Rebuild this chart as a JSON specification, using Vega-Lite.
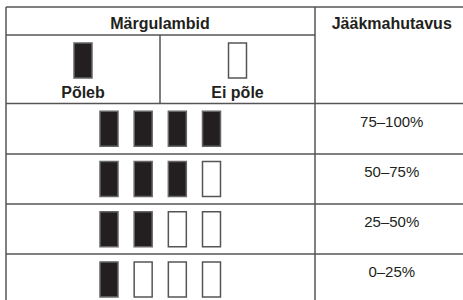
{
  "$schema": "https://vega.github.io/schema/vega-lite/v6.json",
  "width": 463,
  "height": 300,
  "padding": 0,
  "autosize": {"type": "none"},
  "background": "white",
  "config": {"view": {"stroke": null}, "text": {"font": "Liberation Sans", "fontSize": 15, "color": "#231f20"}},
  "resolve": {"scale": {"x": "independent", "y": "independent"}},
  "layer": [
    {
      "data": {"values": [
        {"row": 0, "from": 0, "to": 3},
        {"row": 1, "from": 0, "to": 2},
        {"row": 2, "from": 0, "to": 3},
        {"row": 3, "from": 0, "to": 3},
        {"row": 4, "from": 0, "to": 3},
        {"row": 5, "from": 0, "to": 3}
      ]},
      "mark": {"type": "rule", "color": "#555555", "strokeWidth": 1.5},
      "encoding": {
        "y": {"field": "row", "type": "quantitative", "axis": null, "scale": {"domain": [0, 1, 2, 3, 4, 5, 6], "range": [7, 35, 103.5, 154, 204, 254, 304.5], "nice": false, "zero": false}},
        "x": {"field": "from", "type": "quantitative", "axis": null, "scale": {"domain": [0, 1, 2, 3], "range": [6, 160, 315, 468.5], "nice": false, "zero": false}},
        "x2": {"field": "to"}
      }
    },
    {
      "data": {"values": [
        {"col": 0, "from": 0, "to": 6},
        {"col": 1, "from": 1, "to": 2},
        {"col": 2, "from": 0, "to": 6}
      ]},
      "mark": {"type": "rule", "color": "#555555", "strokeWidth": 1.5},
      "encoding": {
        "x": {"field": "col", "type": "quantitative", "axis": null, "scale": {"domain": [0, 1, 2, 3], "range": [6, 160, 315, 468.5], "nice": false, "zero": false}},
        "y": {"field": "from", "type": "quantitative", "axis": null, "scale": {"domain": [0, 1, 2, 3, 4, 5, 6], "range": [7, 35, 103.5, 154, 204, 254, 304.5], "nice": false, "zero": false}},
        "y2": {"field": "to"}
      }
    },
    {
      "data": {"values": [
        {"text": "Märgulambid", "col": 1, "row": 0.5},
        {"text": "Jääkmahutavus", "col": 2.5, "row": 0.5}
      ]},
      "mark": {"type": "text", "fontWeight": "bold", "fontSize": 16, "baseline": "middle", "align": "center", "dy": 3},
      "encoding": {
        "x": {"field": "col", "type": "quantitative", "axis": null, "scale": {"domain": [0, 1, 2, 3], "range": [6, 160, 315, 468.5], "nice": false, "zero": false}},
        "y": {"field": "row", "type": "quantitative", "axis": null, "scale": {"domain": [0, 1, 2, 3, 4, 5, 6], "range": [7, 35, 103.5, 154, 204, 254, 304.5], "nice": false, "zero": false}},
        "text": {"field": "text"}
      }
    },
    {
      "data": {"values": [
        {"label": "Põleb", "state": "on", "col": 0.5, "row": 1.5},
        {"label": "Ei põle", "state": "off", "col": 1.5, "row": 1.5}
      ]},
      "layer": [
        {
          "mark": {"type": "point", "shape": "M-0.514,-1H0.514V1H-0.514Z", "size": 1225, "filled": true, "opacity": 1, "strokeWidth": 1.5, "yOffset": -8.75},
          "encoding": {
            "x": {"field": "col", "type": "quantitative", "axis": null, "scale": {"domain": [0, 1, 2, 3], "range": [6, 160, 315, 468.5], "nice": false, "zero": false}},
            "y": {"field": "row", "type": "quantitative", "axis": null, "scale": {"domain": [0, 1, 2, 3, 4, 5, 6], "range": [7, 35, 103.5, 154, 204, 254, 304.5], "nice": false, "zero": false}},
            "fill": {"field": "state", "type": "nominal", "legend": null, "scale": {"domain": ["on", "off"], "range": ["#231f20", "#ffffff"]}},
            "stroke": {"field": "state", "type": "nominal", "legend": null, "scale": {"domain": ["on", "off"], "range": ["#666666", "#555555"]}}
          }
        },
        {
          "mark": {"type": "text", "fontWeight": "bold", "fontSize": 16, "baseline": "alphabetic", "align": "center", "dy": 28.5},
          "encoding": {
            "x": {"field": "col", "type": "quantitative", "axis": null, "scale": {"domain": [0, 1, 2, 3], "range": [6, 160, 315, 468.5], "nice": false, "zero": false}},
            "y": {"field": "row", "type": "quantitative", "axis": null, "scale": {"domain": [0, 1, 2, 3, 4, 5, 6], "range": [7, 35, 103.5, 154, 204, 254, 304.5], "nice": false, "zero": false}},
            "text": {"field": "label"}
          }
        }
      ]
    },
    {
      "data": {"values": [
        {"level": "75–100%", "lamp": 1, "state": "on"},
        {"level": "75–100%", "lamp": 2, "state": "on"},
        {"level": "75–100%", "lamp": 3, "state": "on"},
        {"level": "75–100%", "lamp": 4, "state": "on"},
        {"level": "50–75%", "lamp": 1, "state": "on"},
        {"level": "50–75%", "lamp": 2, "state": "on"},
        {"level": "50–75%", "lamp": 3, "state": "on"},
        {"level": "50–75%", "lamp": 4, "state": "off"},
        {"level": "25–50%", "lamp": 1, "state": "on"},
        {"level": "25–50%", "lamp": 2, "state": "on"},
        {"level": "25–50%", "lamp": 3, "state": "off"},
        {"level": "25–50%", "lamp": 4, "state": "off"},
        {"level": "0–25%", "lamp": 1, "state": "on"},
        {"level": "0–25%", "lamp": 2, "state": "off"},
        {"level": "0–25%", "lamp": 3, "state": "off"},
        {"level": "0–25%", "lamp": 4, "state": "off"}
      ]},
      "mark": {"type": "point", "shape": "M-0.514,-1H0.514V1H-0.514Z", "size": 1225, "filled": true, "opacity": 1, "strokeWidth": 1.5},
      "encoding": {
        "x": {"field": "lamp", "type": "quantitative", "axis": null, "scale": {"domain": [1, 4], "range": [109, 211.5], "nice": false, "zero": false}},
        "y": {"field": "level", "type": "nominal", "axis": null, "scale": {"type": "band", "domain": ["75–100%", "50–75%", "25–50%", "0–25%"], "range": [103.5, 304.5], "paddingInner": 0, "paddingOuter": 0}},
        "fill": {"field": "state", "type": "nominal", "legend": null, "scale": {"domain": ["on", "off"], "range": ["#231f20", "#ffffff"]}},
        "stroke": {"field": "state", "type": "nominal", "legend": null, "scale": {"domain": ["on", "off"], "range": ["#666666", "#555555"]}}
      }
    },
    {
      "data": {"values": [
        {"level": "75–100%", "col": 2.5},
        {"level": "50–75%", "col": 2.5},
        {"level": "25–50%", "col": 2.5},
        {"level": "0–25%", "col": 2.5}
      ]},
      "mark": {"type": "text", "baseline": "middle", "align": "center", "dy": -7},
      "encoding": {
        "x": {"field": "col", "type": "quantitative", "axis": null, "scale": {"domain": [0, 1, 2, 3], "range": [6, 160, 315, 468.5], "nice": false, "zero": false}},
        "y": {"field": "level", "type": "nominal", "axis": null, "scale": {"type": "band", "domain": ["75–100%", "50–75%", "25–50%", "0–25%"], "range": [103.5, 304.5], "paddingInner": 0, "paddingOuter": 0}},
        "text": {"field": "level"}
      }
    }
  ]
}
